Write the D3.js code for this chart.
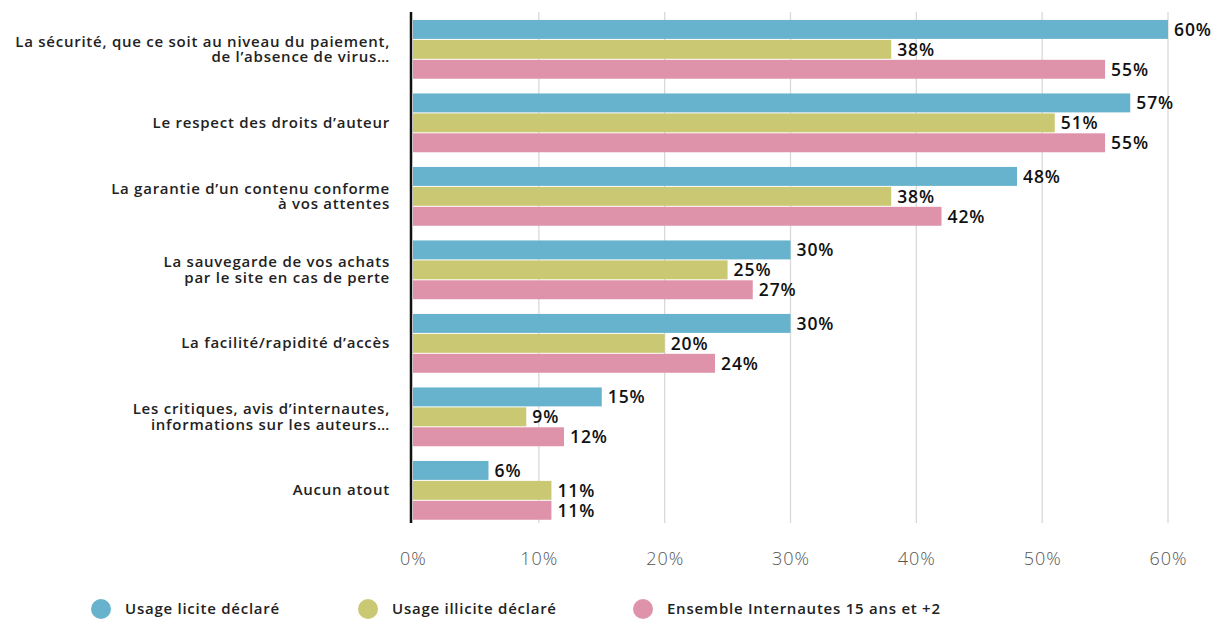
<!DOCTYPE html>
<html><head><meta charset="utf-8">
<script src="https://cdn.jsdelivr.net/npm/d3@7"></script>
<style>html,body{margin:0;padding:0;background:#fff;}svg{display:block;font-family:"Open Sans",sans-serif;}</style>
</head><body>
<svg id="c" width="1217" height="619"></svg>
<script>
const categories = [
  ["La sécurité, que ce soit au niveau du paiement,", "de l’absence de virus…"],
  ["Le respect des droits d’auteur"],
  ["La garantie d’un contenu conforme", "à vos attentes"],
  ["La sauvegarde de vos achats", "par le site en cas de perte"],
  ["La facilité/rapidité d’accès"],
  ["Les critiques, avis d’internautes,", "informations sur les auteurs…"],
  ["Aucun atout"]
];
const seriesNames = ["Usage licite déclaré", "Usage illicite déclaré", "Ensemble Internautes 15 ans et +2"];
const licite   = [60, 57, 48, 30, 30, 15, 6];
const illicite = [38, 51, 38, 25, 20, 9, 11];
const ensemble = [55, 55, 42, 27, 24, 12, 11];
const tickValues = [0, 10, 20, 30, 40, 50, 60];
const colors = ["#67b3cd", "#cbc874", "#de93ab"];

const series = [licite, illicite, ensemble];
const svg = d3.select("#c");
const x = d3.scaleLinear().domain([0, 60]).range([413, 1168]);
const y = d3.scaleBand().domain(d3.range(categories.length)).range([12.6, 527.1]).paddingInner(0.2).paddingOuter(0.1);
const ys = d3.scaleBand().domain([0,1,2]).range([0, y.bandwidth()]).paddingInner(0.05);

// gridlines
svg.append("g").selectAll("line").data(tickValues.slice(1)).join("line")
  .attr("x1", d => x(d)).attr("x2", d => x(d)).attr("y1", 12).attr("y2", 523)
  .attr("stroke", "#d9d9d9").attr("stroke-width", 1.3);

// bars
categories.forEach((c, i) => {
  const g = svg.append("g").attr("transform", `translate(0,${y(i)})`);
  series.forEach((s, k) => {
    g.append("rect").attr("x", x(0)).attr("y", ys(k)).attr("width", x(s[i]) - x(0)).attr("height", ys.bandwidth()).attr("fill", colors[k]);
    g.append("text").attr("x", x(s[i]) + 6).attr("y", ys(k) + ys.bandwidth()/2).attr("dy", "0.36em")
      .attr("font-size", 17.5).attr("font-weight", 600).attr("letter-spacing", 0.9).attr("fill", "#111").text(s[i] + "%");
  });
  const cy = y(i) + y.bandwidth()/2;
  const n = c.length;
  c.forEach((line, j) => {
    svg.append("text").attr("text-anchor", "end").attr("font-size", 15).attr("font-weight", 600)
      .attr("letter-spacing", 0.75).attr("fill", "#222")
      .attr("x", 390).attr("y", cy + (j - (n-1)/2) * 15.5).attr("dy", "0.34em").text(line);
  });
});

// axis line
svg.append("line").attr("x1", 411).attr("x2", 411).attr("y1", 12).attr("y2", 523).attr("stroke", "#111").attr("stroke-width", 2.5);

// x axis labels
const ax = svg.append("g").attr("transform", "translate(0,562)")
  .call(d3.axisBottom(x).tickValues(tickValues).tickFormat(d => d + "%").tickSize(0));
ax.select(".domain").remove();
ax.selectAll("text").attr("font-size", 18).attr("font-weight", 300).attr("letter-spacing", 1).attr("fill", "#555")
  .attr("font-family", "'Open Sans',sans-serif").attr("dy", "0");

// legend
const lx = [101, 368, 643];
seriesNames.forEach((n, k) => {
  svg.append("circle").attr("cx", lx[k]).attr("cy", 609).attr("r", 10).attr("fill", colors[k]);
  svg.append("text").attr("x", lx[k] + 24).attr("y", 609).attr("dy", "0.36em").attr("font-size", 15).attr("font-weight", 600)
    .attr("letter-spacing", 0.75).attr("fill", "#222").text(n);
});
</script>
</body></html>
